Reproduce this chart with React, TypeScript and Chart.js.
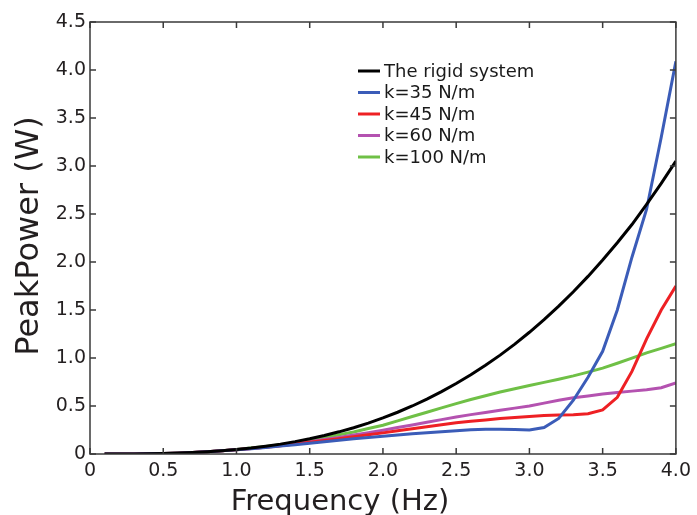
import React, { useEffect, useRef } from "react";
import { Chart, registerables } from "chart.js";

Chart.register(...registerables);

const freq = [0.1,0.2,0.3,0.4,0.5,0.6,0.7,0.8,0.9,1.0,1.1,1.2,1.3,1.4,1.5,1.6,1.7,1.8,1.9,2.0,2.1,2.2,2.3,2.4,2.5,2.6,2.7,2.8,2.9,3.0,3.1,3.2,3.3,3.4,3.5,3.6,3.7,3.8,3.9,4.0];

const rigid = [0,0,0.001,0.003,0.006,0.01,0.016,0.024,0.034,0.047,0.062,0.081,0.103,0.129,0.159,0.193,0.231,0.274,0.322,0.376,0.435,0.5,0.572,0.65,0.735,0.826,0.925,1.03,1.145,1.268,1.4,1.54,1.69,1.85,2.02,2.2,2.39,2.6,2.82,3.05];
const k35 = [0,0,0.001,0.003,0.005,0.009,0.015,0.023,0.033,0.045,0.055,0.068,0.082,0.097,0.113,0.128,0.143,0.158,0.172,0.186,0.198,0.21,0.222,0.233,0.243,0.252,0.258,0.258,0.254,0.25,0.275,0.37,0.56,0.8,1.07,1.5,2.05,2.55,3.3,4.09];
const k45 = [0,0,0.001,0.003,0.005,0.009,0.015,0.023,0.033,0.045,0.057,0.07,0.085,0.104,0.122,0.14,0.16,0.18,0.2,0.22,0.242,0.263,0.284,0.305,0.325,0.34,0.355,0.37,0.38,0.39,0.4,0.405,0.41,0.42,0.46,0.59,0.86,1.2,1.5,1.75];
const k60 = [0,0,0.001,0.003,0.005,0.009,0.015,0.023,0.033,0.046,0.058,0.072,0.088,0.107,0.128,0.15,0.173,0.197,0.222,0.248,0.275,0.302,0.33,0.358,0.385,0.41,0.433,0.456,0.478,0.5,0.53,0.56,0.585,0.605,0.625,0.64,0.655,0.67,0.69,0.74];
const k100 = [0,0,0.001,0.003,0.005,0.009,0.015,0.023,0.033,0.048,0.062,0.078,0.097,0.12,0.145,0.172,0.2,0.23,0.265,0.3,0.345,0.39,0.435,0.48,0.525,0.567,0.607,0.645,0.68,0.713,0.746,0.779,0.814,0.853,0.895,0.945,0.998,1.053,1.1,1.15];

const seriesLabels = ["The rigid system", "k=35 N/m", "k=45 N/m", "k=60 N/m", "k=100 N/m"];
const seriesColors = ["#000000", "#3b5cb8", "#ee2024", "#b452b0", "#6fc046"];
const xTicks = [0, 0.5, 1.0, 1.5, 2.0, 2.5, 3.0, 3.5, 4.0];
const yTicks = [0, 0.5, 1.0, 1.5, 2.0, 2.5, 3.0, 3.5, 4.0, 4.5];
const xTitle = "Frequency (Hz)";
const yTitle = "PeakPower (W)";

const TEXT = "#231f20";
const FRAME = "#3a3a3a";

const fmt = (v: number) => (v === 0 ? "0" : v.toFixed(1));

const framePlugin = {
  id: "framePlugin",
  afterDatasetsDraw(chart: any) {
    const { ctx, chartArea: a, scales } = chart;
    const xs = scales.x;
    const ys = scales.y;
    ctx.save();
    ctx.strokeStyle = FRAME;
    ctx.lineWidth = 1.5;
    ctx.strokeRect(a.left, a.top, a.right - a.left, a.bottom - a.top);
    const tl = 6;
    ctx.beginPath();
    xTicks.forEach((t) => {
      const px = xs.getPixelForValue(t);
      ctx.moveTo(px, a.bottom);
      ctx.lineTo(px, a.bottom - tl);
      ctx.moveTo(px, a.top);
      ctx.lineTo(px, a.top + tl);
    });
    yTicks.forEach((t) => {
      const py = ys.getPixelForValue(t);
      ctx.moveTo(a.left, py);
      ctx.lineTo(a.left + tl, py);
      ctx.moveTo(a.right, py);
      ctx.lineTo(a.right - tl, py);
    });
    ctx.stroke();

    // axis titles
    ctx.fillStyle = TEXT;
    ctx.font = "29px 'DejaVu Sans'";
    ctx.textAlign = "center";
    ctx.textBaseline = "alphabetic";
    ctx.fillText(xTitle, a.left + 250, a.bottom + 56);

    ctx.save();
    ctx.translate(a.left - 52, (a.top + a.bottom) / 2 - 2);
    ctx.rotate(-Math.PI / 2);
    ctx.font = "32px 'DejaVu Sans'";
    ctx.fillText(yTitle, 0, 0);
    ctx.restore();

    // legend
    const lx = a.left + 268;
    const ly = a.top + 49;
    ctx.font = "18px 'DejaVu Sans'";
    ctx.textAlign = "left";
    ctx.textBaseline = "middle";
    chart.data.datasets.forEach((ds: any, i: number) => {
      const y = ly + i * 21.5;
      ctx.strokeStyle = ds.borderColor;
      ctx.lineWidth = 3;
      ctx.beginPath();
      ctx.moveTo(lx, y);
      ctx.lineTo(lx + 22, y);
      ctx.stroke();
      ctx.fillStyle = "#1a1a1a";
      ctx.fillText(ds.label, lx + 26, y + 1);
    });
    ctx.restore();
  },
};

export default function App() {
  const ref = useRef<HTMLCanvasElement | null>(null);
  useEffect(() => {
    if (!ref.current) return;
    const seriesValues = [rigid, k35, k45, k60, k100];
    const datasets = seriesValues.map((vals, i) => ({
      label: seriesLabels[i],
      data: freq.map((f, j) => ({ x: f, y: vals[j] })),
      borderColor: seriesColors[i],
      backgroundColor: seriesColors[i],
      borderWidth: 3,
      pointRadius: 0,
      tension: 0,
      fill: false,
    }));
    const chart = new Chart(ref.current, {
      type: "line",
      data: { datasets },
      options: {
        animation: false,
        responsive: false,
        layout: { padding: { left: 0, right: 20, top: 22, bottom: 0 } },
        plugins: { legend: { display: false }, tooltip: { enabled: false } },
        scales: {
          x: {
            type: "linear",
            min: 0,
            max: 4,
            afterBuildTicks: (s: any) => {
              s.ticks = xTicks.map((v) => ({ value: v }));
            },
            afterFit: (s: any) => {
              s.height = 61;
            },
            grid: { display: false, drawTicks: false },
            border: { display: false },
            ticks: {
              callback: (v: any) => fmt(Number(v)),
              color: TEXT,
              font: { family: "'DejaVu Sans'", size: 19 },
              padding: 6,
              maxRotation: 0,
              autoSkip: false,
            },
          },
          y: {
            type: "linear",
            min: 0,
            max: 4.5,
            afterBuildTicks: (s: any) => {
              s.ticks = yTicks.map((v) => ({ value: v }));
            },
            afterFit: (s: any) => {
              s.width = 90;
            },
            grid: { display: false, drawTicks: false },
            border: { display: false },
            ticks: {
              callback: (v: any) => fmt(Number(v)),
              color: TEXT,
              font: { family: "'DejaVu Sans'", size: 19 },
              padding: 4,
              autoSkip: false,
            },
          },
        },
      },
      plugins: [framePlugin],
    });
    return () => chart.destroy();
  }, []);
  return (
    <div style={{ position: "absolute", left: 0, top: 0, width: 697, height: 515, background: "#fff" }}>
      <canvas ref={ref} width={697} height={515} style={{ width: 697, height: 515, display: "block" }} />
    </div>
  );
}
